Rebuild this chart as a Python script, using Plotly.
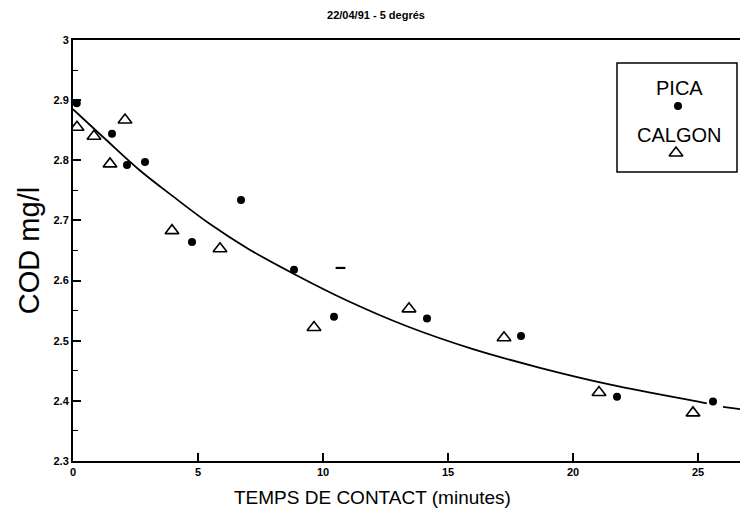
import plotly.graph_objects as go

# --- data ---
pica_x = [0.15, 1.56, 2.16, 2.88, 4.76, 6.72, 8.84, 10.44, 14.16, 17.92, 21.76, 25.6]
pica_y = [2.895, 2.844, 2.792, 2.797, 2.664, 2.734, 2.618, 2.540, 2.537, 2.508, 2.407, 2.399]

calgon_x = [0.16, 0.84, 1.48, 2.08, 3.96, 5.88, 9.64, 13.44, 17.24, 21.04, 24.8]
calgon_y = [2.855, 2.840, 2.794, 2.867, 2.683, 2.653, 2.522, 2.553, 2.505, 2.414, 2.380]

# stray dash mark in the original
stray_x = [10.7]
stray_y = [2.621]

# fitted curve (None = gap in the drawn line)
fit_x = [0, 1.3, 2.68, 4.0, 5.48, 7.0, 8.84, 11.0, 13.36, 16.0, 18.68, 21.5, 25.1, 25.35, None, 26.0, 26.7]
fit_y = [2.885, 2.835, 2.783, 2.740, 2.694, 2.653, 2.611, 2.566, 2.524, 2.486, 2.455, 2.427, 2.398, 2.396,
         None, 2.390, 2.386]

x_ticks = [0, 5, 10, 15, 20, 25]
x_tick_labels = ["0", "5", "10", "15", "20", "25"]
y_ticks = [2.3, 2.4, 2.5, 2.6, 2.7, 2.8, 2.9, 3.0]
y_tick_labels = ["2.3", "2.4", "2.5", "2.6", "2.7", "2.8", "2.9", "3"]

title_text = "22/04/91 - 5 degrés"
x_title = "TEMPS DE CONTACT (minutes)"
y_title = "COD mg/l"
legend_names = ["PICA", "CALGON"]

fig = go.Figure()

fig.add_trace(go.Scatter(x=fit_x, y=fit_y, mode="lines",
                         line=dict(color="black", width=1.8, shape="spline", smoothing=1.0),
                         connectgaps=False, showlegend=False, hoverinfo="skip"))
fig.add_trace(go.Scatter(x=pica_x, y=pica_y, mode="markers", name=legend_names[0],
                         marker=dict(symbol="circle", size=8, color="black"), showlegend=False))
fig.add_trace(go.Scatter(x=calgon_x, y=calgon_y, mode="markers", name=legend_names[1],
                         marker=dict(symbol="triangle-up-open", size=12, color="black", line=dict(width=1.6)),
                         showlegend=False))
fig.add_trace(go.Scatter(x=stray_x, y=stray_y, mode="markers",
                         marker=dict(symbol="line-ew", size=7, color="black", line=dict(width=2.2, color="black")),
                         showlegend=False, hoverinfo="skip"))

# legend markers on invisible overlay axes
fig.add_trace(go.Scatter(x=[0.5], y=[0.5], xaxis="x2", yaxis="y2", mode="markers",
                         marker=dict(symbol="circle", size=8, color="black"), showlegend=False, hoverinfo="skip"))
fig.add_trace(go.Scatter(x=[0.5], y=[0.5], xaxis="x3", yaxis="y3", mode="markers",
                         marker=dict(symbol="triangle-up-open", size=12, color="black", line=dict(width=1.6)),
                         showlegend=False, hoverinfo="skip"))

# the page body has an 8px margin: the figure starts at (8, 8) in the window
OFF = 8
W, H = 748 - OFF, 521 - OFF
L, R, T, B = 73 - OFF, 0, 40 - OFF, 521 - 461
pw, ph = W - L - R, H - T - B

def px(xp):
    return (xp - OFF - L) / pw

def py(yp):
    return 1 - (yp - OFF - T) / ph

FONT = "Liberation Sans, Arial, sans-serif"

fig.update_layout(
    width=W, height=H,
    margin=dict(l=L, r=R, t=T, b=B, autoexpand=False),
    paper_bgcolor="white", plot_bgcolor="white",
    font=dict(family=FONT, color="black"),
    xaxis=dict(range=[0, 27.0], tickvals=x_ticks, ticktext=["<b>%s</b>" % t for t in x_tick_labels],
               ticks="inside", ticklen=8, tickwidth=1.5, tickcolor="black",
               showline=True, linecolor="black", linewidth=2, mirror=True, showgrid=False, zeroline=False,
               tickfont=dict(size=11), automargin=False),
    yaxis=dict(range=[2.3, 3.0], tickvals=y_ticks, ticktext=["<b>%s</b>" % t for t in y_tick_labels],
               ticks="inside", ticklen=8, tickwidth=1.5, tickcolor="black",
               minor=dict(ticks="inside", ticklen=5, dtick=0.05, tickcolor="black", tickwidth=1.2),
               showline=True, linecolor="black", linewidth=2, showgrid=False, zeroline=False,
               tickfont=dict(size=11), automargin=False,
               title=dict(text=y_title, font=dict(size=29), standoff=5)),
    xaxis2=dict(domain=[px(668), px(688)], range=[0, 1], visible=False, anchor="y2"),
    yaxis2=dict(domain=[py(116), py(96)], range=[0, 1], visible=False, anchor="x2"),
    xaxis3=dict(domain=[px(666), px(686)], range=[0, 1], visible=False, anchor="y3"),
    yaxis3=dict(domain=[py(163), py(143)], range=[0, 1], visible=False, anchor="x3"),
    title=dict(text="<b>%s</b>" % title_text, x=(376 - OFF) / W, xanchor="center",
               y=1 - (15 - OFF) / H, yanchor="middle", font=dict(size=11)),
    showlegend=False,
)

# x-axis title (centred where the reference puts it, not on the plot area)
fig.add_annotation(text=x_title, xref="paper", yref="paper", x=px(372), y=py(497),
                   showarrow=False, font=dict(size=19), xanchor="center", yanchor="middle")

fig.add_shape(type="rect", xref="paper", yref="paper", x0=px(617), x1=px(737), y0=py(172), y1=py(63),
              line=dict(color="black", width=1.5), fillcolor="rgba(0,0,0,0)")
fig.add_annotation(text=legend_names[0], xref="paper", yref="paper", x=px(679), y=py(88),
                   showarrow=False, font=dict(size=20), xanchor="center", yanchor="middle")
fig.add_annotation(text=legend_names[1], xref="paper", yref="paper", x=px(679), y=py(135),
                   showarrow=False, font=dict(size=20), xanchor="center", yanchor="middle")

fig.write_html("out.html")
